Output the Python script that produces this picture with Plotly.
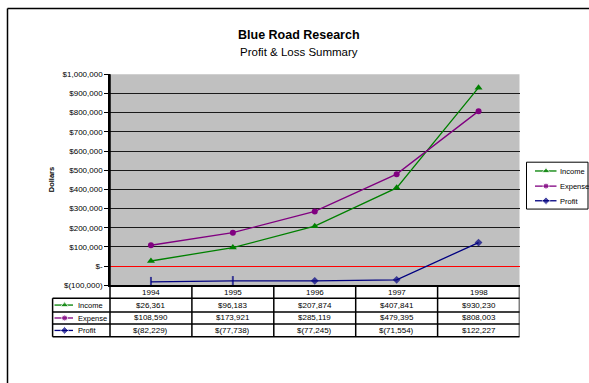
import plotly.graph_objects as go

# ---- data ----
years = ["1994", "1995", "1996", "1997", "1998"]
income = [26361, 96183, 207874, 407841, 930230]
expense = [108590, 173921, 285119, 479395, 808003]
profit = [-82229, -77738, -77245, -71554, 122227]

series_names = ["Income", "Expense", "Profit"]
series_values = [income, expense, profit]
series_colors = ["#008000", "#800080", "#000080"]
series_symbols = ["triangle-up", "circle", "diamond"]
series_sizes = [7, 6, 6]
# the reference draws the first two profit markers as short vertical ticks
profit_point_symbols = ["line-ns", "line-ns", "diamond", "diamond", "diamond"]

tick_vals = [-100000, 0, 100000, 200000, 300000, 400000, 500000,
             600000, 700000, 800000, 900000, 1000000]
tick_text = ["$(100,000)", "$-", "$100,000", "$200,000", "$300,000", "$400,000",
             "$500,000", "$600,000", "$700,000", "$800,000", "$900,000", "$1,000,000"]

title_text = "Blue Road Research"
subtitle_text = "Profit & Loss Summary"
y_title = "Dollars"

# ---- layout geometry (pixels) ----
W, H = 589, 383
PL, PR, PT, PB = 110, 519.5, 72, 288
ROW_TOPS = [288, 301.3, 315.3, 327.8, 340.8]
TL = 52.6  # table label column left
FONT = "Arial, Liberation Sans, sans-serif"


def fmt(v):
    return f"${v:,}" if v >= 0 else f"$({-v:,})"


fig = go.Figure()

# main series
for name, vals, col, sym, sz in zip(series_names, series_values, series_colors,
                                     series_symbols, series_sizes):
    if name == "Profit":
        syms = profit_point_symbols
        msizes = [7 if s == "line-ns" else sz for s in syms]
        mlw = [2 if s == "line-ns" else 0 for s in syms]
    else:
        syms, msizes, mlw = sym, sz, 0
    fig.add_trace(go.Scatter(
        x=years, y=vals, name=name, mode="lines+markers",
        line=dict(color=col, width=1.3),
        marker=dict(symbol=syms, size=msizes, color=col, line=dict(color=col, width=mlw)),
        cliponaxis=False, showlegend=False, xaxis="x", yaxis="y"))

shapes = []
annotations = []

# plot background
shapes.append(dict(type="rect", xref="x domain", yref="y domain", x0=0, x1=1, y0=0, y1=1,
                   fillcolor="#C0C0C0", line=dict(width=0), layer="below"))

# frame
shapes.append(dict(type="line", xref="paper", yref="paper", x0=7.5 / W, x1=1.05,
                   y0=1 - 4.5 / H, y1=1 - 4.5 / H, line=dict(color="black", width=1.5)))
shapes.append(dict(type="line", xref="paper", yref="paper", x0=7.5 / W, x1=7.5 / W,
                   y0=1 - 4.5 / H, y1=-0.05, line=dict(color="black", width=1.5)))

# table
tbl_line = dict(color="black", width=1.5)
for i in range(1, 5):
    shapes.append(dict(type="line", xref="x2", yref="y2", x0=TL, x1=PR,
                       y0=ROW_TOPS[i], y1=ROW_TOPS[i], line=tbl_line))
shapes.append(dict(type="line", xref="x2", yref="y2", x0=TL, x1=TL,
                   y0=ROW_TOPS[1], y1=ROW_TOPS[4], line=tbl_line))
shapes.append(dict(type="line", xref="x2", yref="y2", x0=PL, x1=PL,
                   y0=PT, y1=ROW_TOPS[4], line=tbl_line))
for k in range(len(years)):
    shapes.append(dict(type="line", xref="x", yref="y2", x0=k + 0.5, x1=k + 0.5,
                       y0=PB, y1=ROW_TOPS[4], line=tbl_line))

# table text
for j, yr in enumerate(years):
    annotations.append(dict(x=j, y=(ROW_TOPS[0] + ROW_TOPS[1]) / 2 + 0.5, xref="x", yref="y2",
                            text=yr, showarrow=False, font=dict(size=8, color="black")))
for i, (name, vals, col, sym, sz) in enumerate(zip(series_names, series_values, series_colors,
                                                     series_symbols, series_sizes)):
    yc = (ROW_TOPS[i + 1] + ROW_TOPS[i + 2]) / 2
    for j, v in enumerate(vals):
        annotations.append(dict(x=j, y=yc, xref="x", yref="y2", text=fmt(v),
                                showarrow=False, font=dict(size=8, color="black")))
    annotations.append(dict(x=75.5, y=yc + 0.5, xref="x2", yref="y2", text=name, xanchor="left",
                            showarrow=False, font=dict(size=7.5, color="black")))
    fig.add_trace(go.Scatter(x=[54.5, 64.6, 73], y=[yc, yc, yc], mode="lines+markers",
                             line=dict(color=col, width=1.3),
                             marker=dict(symbol=sym, size=[0, sz, 0], color=col),
                             showlegend=False, xaxis="x2", yaxis="y2", hoverinfo="skip"))

# legend (manual)
shapes.append(dict(type="rect", xref="x2", yref="y2", x0=526.5, x1=588, y0=162, y1=210,
                   line=dict(color="black", width=1), fillcolor="white", layer="below"))
leg_y = [171, 186.5, 201.5]
for name, col, sym, sz, ly in zip(series_names, series_colors, series_symbols, series_sizes, leg_y):
    fig.add_trace(go.Scatter(x=[535, 546, 556.5], y=[ly, ly, ly], mode="lines+markers",
                             line=dict(color=col, width=1.3),
                             marker=dict(symbol=sym, size=[0, sz, 0], color=col),
                             showlegend=False, xaxis="x2", yaxis="y2", hoverinfo="skip"))
    annotations.append(dict(x=557.5, y=ly + 0.5, xref="x2", yref="y2", text=name, xanchor="left",
                            showarrow=False, font=dict(size=7.5, color="black")))

# titles
annotations.append(dict(x=299 / W, y=1 - 23 / H, xref="paper", yref="paper",
                        text=f"<b>{title_text}</b>", showarrow=False,
                        font=dict(size=12.5, color="black")))
annotations.append(dict(x=299 / W, y=1 - 41 / H, xref="paper", yref="paper",
                        text=subtitle_text, showarrow=False,
                        font=dict(size=11.5, color="black")))
annotations.append(dict(x=45 / W, y=1 - 180 / H, xref="paper", yref="paper",
                        text=f"<b>{y_title}</b>", textangle=-90, showarrow=False,
                        font=dict(size=7.5, color="black")))

fig.update_layout(
    width=W, height=H, margin=dict(l=0, r=0, t=0, b=0),
    paper_bgcolor="white", plot_bgcolor="rgba(0,0,0,0)",
    font=dict(family=FONT, size=8, color="black"),
    showlegend=False,
    xaxis=dict(domain=[PL / W, PR / W], type="category", range=[-0.5, 4.5],
               showticklabels=False, ticks="", showgrid=False, zeroline=False,
               showline=True, linecolor="black", linewidth=1.5, anchor="y"),
    yaxis=dict(domain=[1 - PB / H, 1 - PT / H], range=[-100000, 1000000],
               tickvals=tick_vals, ticktext=tick_text, ticks="outside", ticklen=4,
               tickcolor="black", tickwidth=1, tickfont=dict(size=8),
               showline=True, linecolor="black", linewidth=1.5,
               showgrid=True, gridcolor="#1a1a1a", gridwidth=1.4,
               zeroline=True, zerolinecolor="#FF0000", zerolinewidth=1.2, anchor="x"),
    xaxis2=dict(domain=[0, 1], range=[0, W], visible=False, anchor="y2", fixedrange=True),
    yaxis2=dict(domain=[0, 1], range=[H, 0], visible=False, anchor="x2", fixedrange=True),
    shapes=shapes, annotations=annotations,
)

fig.write_html("out.html")
